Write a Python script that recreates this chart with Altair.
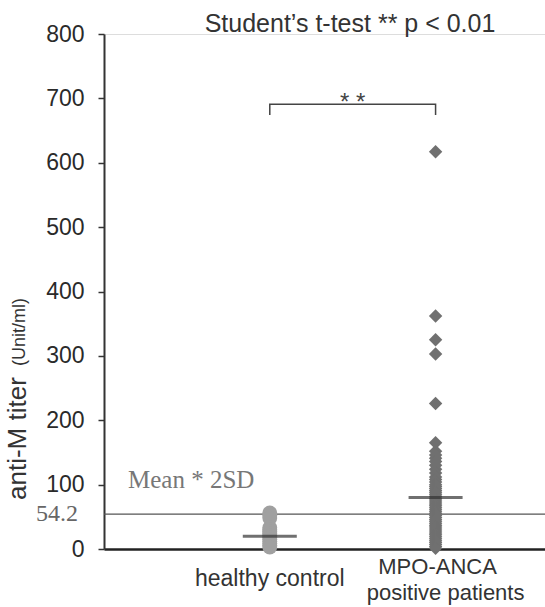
import altair as alt
import pandas as pd

# ---- data ----
groups = ["healthy control", "MPO-ANCA positive patients"]
group_pos = [1, 2]

healthy_values = [56, 52, 48, 33, 30, 27, 24, 21, 18, 15, 12, 9, 6, 3]
mpo_values = [617, 362, 325, 303, 226, 165, 152, 146, 141, 136, 130, 124, 118,
              112, 108, 104, 100, 97, 94, 91, 88, 85, 82, 79, 76, 73, 70, 67,
              64, 61, 58, 55, 52, 49, 46, 43, 40, 37, 34, 31, 28, 25, 22, 19,
              16, 13, 10, 7, 4, 1]
group_means = [20, 80]
cutoff = 54.2
bracket_top = 691
bracket_bottom = 674
y_ticks = [0, 100, 200, 300, 400, 500, 600, 700, 800]

FONT = "Liberation Sans"
SERIF = "Liberation Serif"

pts_h = pd.DataFrame({"x": [group_pos[0]] * len(healthy_values), "v": healthy_values})
pts_m = pd.DataFrame({"x": [group_pos[1]] * len(mpo_values), "v": mpo_values})
means = pd.DataFrame({"x": group_pos, "v": group_means})
bracket = pd.DataFrame({
    "x": [group_pos[0], group_pos[0], group_pos[1], group_pos[1]],
    "v": [bracket_bottom, bracket_top, bracket_top, bracket_bottom],
    "o": [0, 1, 2, 3],
})

xs = alt.Scale(domain=[0, 2.66], nice=False, zero=False)
ys = alt.Scale(domain=[0, 800], nice=False)

X = alt.X("x:Q", scale=xs, axis=alt.Axis(title=None, labels=False, ticks=False, grid=False,
                                          domainColor="#222", domainWidth=2.5))
Y = alt.Y("v:Q", scale=ys, axis=alt.Axis(title=None, values=y_ticks, grid=False,
                                          labelFont=FONT, labelFontSize=23, labelColor="#2a2a2a",
                                          labelPadding=14, tickSize=6, tickColor="#333",
                                          tickWidth=1.5, domainColor="#333", domainWidth=2))

healthy = alt.Chart(pts_h).mark_point(shape="circle", filled=True, size=220,
                                      color="#a0a0a0", opacity=1).encode(x=X, y=Y)
mpo = alt.Chart(pts_m).mark_point(shape="diamond", filled=True, size=180,
                                  color="#707070", opacity=1).encode(x=X, y=Y)
mean_ticks = alt.Chart(means).mark_tick(orient="horizontal", size=54, thickness=3,
                                        color="#333").encode(x=X, y=Y)

cut_df = pd.DataFrame({"v": [cutoff]})
cut_line = alt.Chart(cut_df).mark_rule(color="#555", strokeWidth=1.3).encode(y=Y)
cut_label = alt.Chart(pd.DataFrame({"v": [cutoff], "t": [f"{cutoff}"]})).mark_text(
    font=SERIF, fontSize=24, color="#666", align="right", baseline="middle"
).encode(y=Y, x=alt.value(-26), text="t:N")
sd_label = alt.Chart(pd.DataFrame({"t": ["Mean * 2SD"]})).mark_text(
    font=SERIF, fontSize=25, color="#777", align="left", baseline="alphabetic"
).encode(x=alt.value(24), y=alt.value(454), text="t:N")

br = alt.Chart(bracket).mark_line(color="#444", strokeWidth=1.5).encode(
    x=X, y=Y, order="o:Q")
stars = alt.Chart(pd.DataFrame({"x": [sum(group_pos) / 2], "t": ["*  *"]})).mark_text(
    font=FONT, fontSize=24, color="#444", align="center", baseline="alphabetic"
).encode(x=X, y=alt.value(76), text="t:N")

title = alt.Chart(pd.DataFrame({"t": ["Student\u2019s t-test ** p < 0.01"]})).mark_text(
    font=FONT, fontSize=25, color="#333", align="center", baseline="alphabetic"
).encode(x=alt.value(246), y=alt.value(-2), text="t:N")

lab_h = alt.Chart(pd.DataFrame({"x": [group_pos[0]], "t": ["healthy control"]})).mark_text(
    font=FONT, fontSize=23, color="#333", align="center", baseline="alphabetic"
).encode(x=X, y=alt.value(552), text="t:N")
lab_m1 = alt.Chart(pd.DataFrame({"x": [group_pos[1]], "t": ["MPO-ANCA"]})).mark_text(
    font=FONT, fontSize=22, color="#333", align="center", baseline="alphabetic", dx=2
).encode(x=X, y=alt.value(540), text="t:N")
lab_m2 = alt.Chart(pd.DataFrame({"x": [group_pos[1]], "t": ["positive patients"]})).mark_text(
    font=FONT, fontSize=22, color="#333", align="center", baseline="alphabetic", dx=10
).encode(x=X, y=alt.value(566), text="t:N")

ytitle1 = alt.Chart(pd.DataFrame({"t": ["anti-M titer"]})).mark_text(
    font=FONT, fontSize=26, color="#333", align="left", baseline="middle", angle=270
).encode(x=alt.value(-86), y=alt.value(466), text="t:N")
ytitle2 = alt.Chart(pd.DataFrame({"t": ["(Unit/ml)"]})).mark_text(
    font=FONT, fontSize=18, color="#333", align="left", baseline="middle", angle=270
).encode(x=alt.value(-84), y=alt.value(332), text="t:N")

chart = alt.layer(
    cut_line, healthy, mpo, mean_ticks, br, stars, cut_label, sd_label,
    title, lab_h, lab_m1, lab_m2, ytitle1, ytitle2
).properties(
    width=441, height=515,
    autosize=alt.AutoSizeParams(type="none"),
    padding={"left": 104, "top": 34, "right": 0, "bottom": 58},
).configure_view(stroke=None).configure(background="white")

chart.save("out.html", embed_options={"renderer": "svg", "actions": False})
